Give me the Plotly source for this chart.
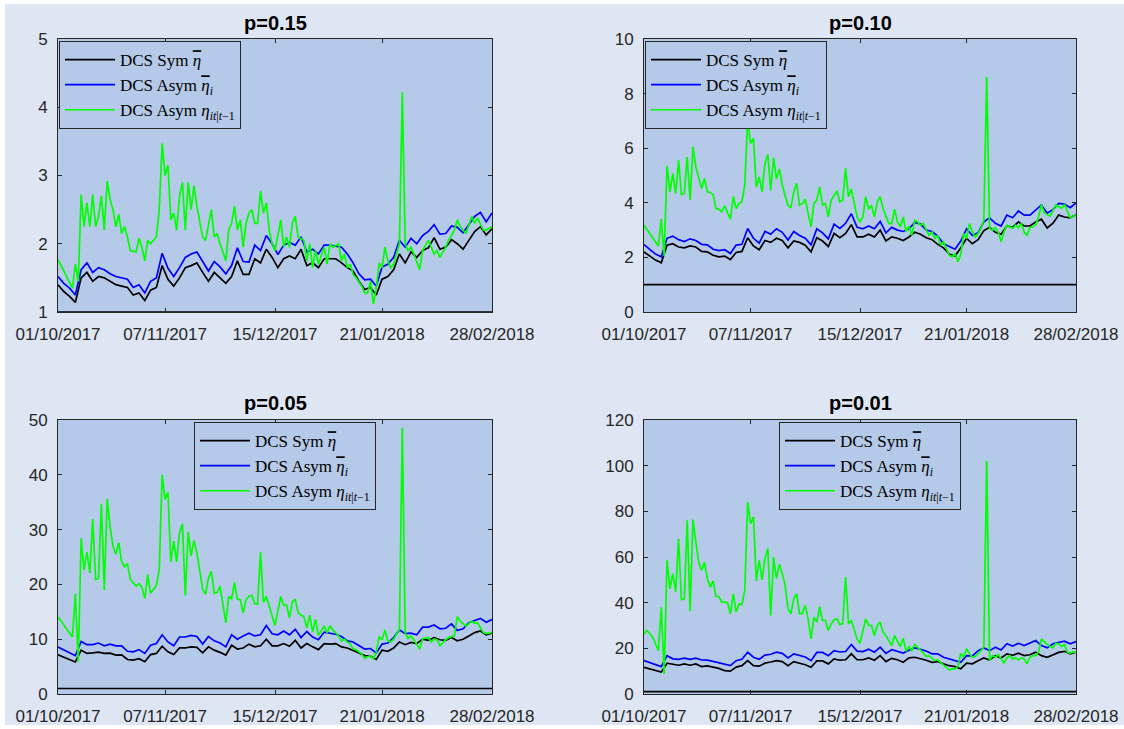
import pandas as pd
import plotly.graph_objects as go

# ---------------------------------------------------------------------------
# Data: daily estimates of the tail parameter, 01/10/2017 - 28/02/2018
# ---------------------------------------------------------------------------
START = pd.Timestamp("2017-10-01")
N_DAYS = 150

# the two smooth estimates are stored every second day
GRID_DAYS = list(range(0, N_DAYS + 1, 2))

# p = 0.15
P15_SYM = [1.40, 1.30, 1.23, 1.14, 1.50, 1.58, 1.45, 1.52, 1.50, 1.45,
           1.40, 1.38, 1.36, 1.25, 1.28, 1.17, 1.32, 1.36, 1.68, 1.48,
           1.38, 1.50, 1.65, 1.68, 1.72, 1.58, 1.45, 1.58, 1.50, 1.42,
           1.52, 1.75, 1.55, 1.55, 1.78, 1.72, 1.92, 1.80, 1.65, 1.78,
           1.82, 1.78, 1.92, 1.68, 1.72, 1.65, 1.78, 1.78, 1.78, 1.72,
           1.65, 1.60, 1.45, 1.33, 1.36, 1.25, 1.48, 1.52, 1.62, 1.85,
           1.72, 1.88, 1.80, 1.90, 1.94, 2.09, 1.92, 1.95, 2.06, 2.00,
           1.92, 2.05, 2.18, 2.25, 2.13, 2.22]
P15_ASYM = [1.52, 1.42, 1.35, 1.25, 1.62, 1.72, 1.58, 1.65, 1.62, 1.56,
            1.52, 1.50, 1.48, 1.36, 1.40, 1.28, 1.45, 1.50, 1.86, 1.64,
            1.52, 1.65, 1.80, 1.85, 1.88, 1.74, 1.60, 1.74, 1.66, 1.56,
            1.68, 1.94, 1.74, 1.73, 1.98, 1.90, 2.12, 2.00, 1.84, 1.98,
            2.02, 1.98, 2.10, 1.88, 1.92, 1.85, 1.98, 1.98, 1.97, 1.95,
            1.85, 1.72, 1.56, 1.47, 1.48, 1.38, 1.66, 1.70, 1.80, 2.05,
            1.95, 2.08, 2.00, 2.12, 2.18, 2.28, 2.14, 2.15, 2.26, 2.24,
            2.16, 2.28, 2.40, 2.46, 2.32, 2.45]

# p = 0.10
P10_SYM = [2.20, 2.05, 1.90, 1.80, 2.45, 2.50, 2.38, 2.35, 2.42, 2.38,
           2.22, 2.20, 2.08, 2.02, 2.05, 1.92, 2.18, 2.22, 2.72, 2.42,
           2.28, 2.62, 2.55, 2.70, 2.62, 2.35, 2.60, 2.55, 2.45, 2.20,
           2.72, 2.60, 2.40, 2.88, 2.72, 2.88, 3.20, 2.75, 2.75, 2.85,
           2.75, 3.00, 2.60, 2.75, 2.70, 2.62, 2.75, 2.92, 2.85, 2.72,
           2.65, 2.48, 2.35, 2.12, 2.05, 2.35, 2.70, 2.50, 2.65, 2.98,
           3.10, 2.92, 2.85, 3.15, 3.10, 3.30, 3.15, 3.15, 3.30, 3.40,
           3.08, 3.25, 3.55, 3.48, 3.45, 3.57]
P10_ASYM = [2.47, 2.30, 2.12, 2.02, 2.70, 2.78, 2.65, 2.58, 2.68, 2.62,
            2.48, 2.46, 2.30, 2.25, 2.28, 2.14, 2.45, 2.48, 3.06, 2.70,
            2.52, 2.95, 2.85, 3.05, 2.92, 2.64, 2.95, 2.80, 2.70, 2.46,
            3.05, 2.90, 2.68, 3.22, 3.06, 3.25, 3.60, 3.10, 3.05, 3.15,
            3.05, 3.32, 2.90, 3.10, 3.00, 2.95, 3.05, 3.28, 3.22, 3.00,
            2.95, 2.78, 2.50, 2.40, 2.30, 2.60, 3.05, 2.80, 2.90, 3.30,
            3.45, 3.25, 3.15, 3.55, 3.45, 3.70, 3.55, 3.55, 3.72, 3.92,
            3.62, 3.75, 3.98, 3.95, 3.82, 4.00]

# p = 0.05
P05_SYM = [7.16, 6.70, 6.30, 5.85, 8.00, 7.40, 7.50, 7.65, 7.40, 7.45,
           7.10, 7.15, 6.30, 6.20, 6.45, 5.90, 7.20, 7.40, 8.70, 7.70,
           7.20, 8.40, 8.40, 8.60, 8.50, 7.50, 8.60, 8.00, 7.60, 7.10,
           8.90, 8.20, 8.40, 9.10, 8.60, 8.80, 10.00, 8.80, 8.80, 9.20,
           8.70, 9.80, 8.40, 9.20, 8.60, 8.10, 9.20, 9.10, 9.20, 8.60,
           8.40, 8.00, 7.50, 7.00, 6.90, 6.30, 8.00, 7.80, 8.40, 9.50,
           9.00, 9.40, 9.20, 10.00, 9.80, 10.30, 9.90, 9.80, 10.30, 9.70,
           10.00, 10.60, 11.20, 11.50, 10.80, 11.10]
P05_ASYM = [8.56, 8.00, 7.50, 7.00, 9.60, 9.00, 9.00, 9.30, 8.80, 9.10,
            8.80, 8.80, 7.80, 7.70, 8.10, 7.40, 8.90, 9.20, 10.80, 9.50,
            8.80, 10.40, 10.40, 10.70, 10.50, 9.10, 10.50, 9.70, 9.30, 8.60,
            10.80, 10.00, 10.60, 11.10, 10.60, 10.80, 12.50, 11.00, 10.80, 11.50,
            10.80, 11.80, 10.30, 11.40, 10.40, 9.90, 11.30, 11.10, 10.90, 10.50,
            9.70, 9.50, 8.90, 8.20, 8.30, 7.50, 9.10, 9.30, 10.30, 11.70,
            11.00, 11.10, 10.80, 12.20, 12.20, 12.60, 11.90, 12.00, 12.80, 11.60,
            11.90, 13.00, 13.40, 13.80, 13.10, 13.60]

# p = 0.01
P01_SYM = [11.7, 11.0, 10.3, 9.6, 13.5, 12.9, 12.6, 13.2, 12.6, 13.2,
           12.0, 12.3, 11.7, 11.2, 10.2, 10.0, 11.8, 12.4, 14.6, 12.4,
           12.2, 13.5, 14.0, 14.6, 14.2, 12.4, 14.2, 13.5, 12.8, 11.7,
           14.5, 14.5, 13.2, 15.4, 14.8, 15.0, 17.6, 15.0, 15.0, 15.8,
           14.8, 16.8, 14.2, 15.6, 15.0, 13.9, 15.8, 16.1, 15.6, 14.8,
           13.9, 14.2, 13.2, 12.4, 12.0, 11.0, 13.5, 13.2, 14.6, 15.8,
           14.9, 16.8, 15.8, 17.6, 16.9, 17.9, 16.8, 17.2, 18.3, 16.8,
           16.1, 17.3, 18.2, 18.7, 17.6, 18.3]
P01_ASYM = [14.6, 13.8, 12.8, 12.0, 16.8, 15.4, 15.2, 15.7, 15.2, 15.7,
            14.9, 14.8, 14.3, 13.6, 13.2, 12.4, 14.6, 15.2, 18.3, 16.1,
            15.2, 17.0, 17.4, 18.3, 17.8, 15.8, 17.6, 17.0, 16.2, 14.6,
            18.2, 18.2, 16.8, 19.0, 18.4, 18.6, 21.7, 18.8, 18.6, 19.6,
            18.3, 20.5, 17.8, 19.4, 18.6, 17.9, 19.2, 20.2, 19.6, 18.8,
            17.6, 17.6, 16.1, 15.4, 14.6, 13.9, 16.8, 16.6, 19.0, 20.2,
            19.0, 20.5, 19.3, 22.0, 21.0, 22.2, 21.2, 22.2, 23.4, 21.2,
            20.2, 22.0, 22.6, 23.1, 22.0, 23.0]

# conditional (time-varying) estimates, stored at their own days
COND_DAYS_A = [0, 5, 6, 7, 8, 9, 10, 11, 12, 13,
               14, 15, 16, 17, 18, 19, 20, 21, 22, 23,
               24, 25, 27, 28, 29, 30, 31, 32, 34, 35,
               36, 37, 38, 39, 40, 41, 42, 43, 44, 45,
               46, 47, 48, 50, 51, 52, 53, 54, 55, 56,
               58, 59, 60, 61, 62, 63, 64, 65, 66, 67,
               68, 69, 70, 71, 72, 73, 74, 75, 77, 78,
               79, 80, 81, 82, 83, 85, 86, 87, 88, 89,
               90, 92, 93, 94, 95, 97, 98, 99, 100, 101,
               102, 103, 105, 106, 107, 108, 109, 110, 111, 112,
               113, 114, 115, 116, 117, 118, 119, 120, 121, 122,
               123, 125, 126, 128, 129, 130, 131, 132, 134, 135,
               137, 138, 139, 141, 143, 144, 145, 147, 148, 150]
P15_COND = [1.77, 1.35, 1.70, 1.45, 2.72, 2.25, 2.60, 2.25, 2.72, 2.25,
            2.40, 2.70, 2.20, 2.92, 2.65, 2.50, 2.25, 2.43, 2.15, 2.25,
            2.10, 1.90, 1.88, 2.08, 1.95, 1.75, 2.05, 2.00, 2.10, 2.50,
            3.47, 3.00, 3.15, 2.35, 2.45, 2.20, 2.70, 2.90, 2.20, 2.90,
            2.50, 2.85, 2.55, 2.10, 2.05, 2.30, 2.50, 2.10, 2.15, 2.00,
            1.75, 2.20, 2.30, 2.55, 2.20, 2.35, 1.95, 2.30, 2.45, 2.50,
            2.30, 2.30, 2.77, 2.45, 2.60, 2.20, 2.00, 1.90, 2.35, 1.95,
            2.10, 1.95, 2.30, 2.40, 2.10, 2.05, 1.75, 2.00, 1.65, 1.90,
            1.70, 1.95, 1.70, 2.00, 1.95, 2.00, 1.75, 1.85, 1.65, 1.70,
            1.55, 1.50, 1.38, 1.28, 1.28, 1.45, 1.12, 1.35, 1.72, 1.65,
            1.95, 1.75, 1.65, 1.70, 1.85, 2.00, 4.22, 2.00, 1.90, 1.95,
            1.85, 1.62, 1.90, 2.05, 1.95, 1.85, 1.90, 1.80, 1.95, 2.05,
            2.20, 2.35, 2.25, 2.15, 2.40, 2.30, 2.38, 2.20, 2.20, 2.25]
P05_COND = [14.1, 10.4, 18.3, 5.9, 28.4, 22.6, 25.9, 22.1, 31.9, 20.9,
            21.1, 34.7, 19.0, 35.6, 30.6, 27.0, 25.5, 27.6, 24.2, 23.2,
            23.8, 20.9, 19.7, 20.1, 19.5, 17.4, 21.8, 18.4, 19.8, 22.8,
            40.0, 35.5, 36.8, 24.1, 27.9, 24.1, 29.4, 31.0, 18.0, 29.6,
            25.2, 28.0, 25.8, 19.1, 18.2, 21.2, 22.4, 18.4, 18.5, 19.7,
            13.0, 17.8, 17.4, 20.3, 17.3, 17.2, 14.8, 17.2, 17.9, 18.0,
            16.5, 16.4, 25.9, 16.7, 17.8, 15.9, 14.2, 12.5, 17.8, 16.2,
            16.2, 13.9, 16.8, 17.3, 14.8, 14.1, 12.1, 14.4, 11.3, 13.6,
            10.7, 12.4, 11.2, 12.4, 11.7, 10.6, 9.7, 10.0, 9.5, 9.1,
            8.2, 8.1, 7.3, 6.5, 6.8, 7.0, 6.4, 7.6, 10.5, 9.9,
            11.7, 9.7, 9.5, 10.0, 10.9, 11.8, 48.6, 11.1, 10.1, 10.6,
            9.9, 8.2, 10.1, 10.3, 9.5, 10.0, 9.9, 8.8, 9.9, 10.3,
            10.6, 14.1, 13.3, 12.4, 13.3, 12.9, 13.0, 11.2, 11.0, 11.2]

COND_DAYS_B = [0, 5, 6, 7, 8, 9, 10, 11, 12, 13,
               14, 15, 16, 17, 18, 19, 20, 21, 22, 23,
               24, 25, 26, 27, 28, 29, 30, 31, 32, 33,
               34, 35, 36, 37, 38, 39, 40, 41, 42, 43,
               44, 45, 46, 47, 48, 49, 50, 51, 52, 53,
               54, 55, 56, 57, 58, 59, 60, 61, 62, 63,
               64, 65, 66, 67, 68, 69, 70, 71, 72, 73,
               74, 75, 76, 77, 78, 79, 80, 81, 82, 83,
               84, 85, 86, 87, 88, 89, 90, 91, 92, 93,
               94, 95, 96, 97, 98, 99, 100, 101, 102, 103,
               104, 105, 106, 107, 108, 109, 110, 111, 112, 113,
               114, 115, 116, 117, 118, 119, 120, 121, 122, 123,
               124, 125, 126, 128, 129, 130, 131, 132, 133, 134,
               136, 137, 138, 139, 141, 143, 145, 146, 148, 150]
P10_COND = [3.18, 2.42, 3.40, 2.05, 5.35, 4.40, 5.07, 4.34, 5.56, 4.30,
            4.34, 5.68, 4.10, 6.05, 5.32, 4.95, 4.52, 4.89, 4.40, 4.38,
            4.30, 3.79, 3.77, 3.67, 3.89, 3.65, 3.40, 4.23, 3.79, 3.97,
            4.05, 4.65, 7.07, 6.18, 6.36, 4.58, 4.95, 4.40, 5.44, 5.77,
            4.46, 5.65, 4.87, 5.24, 4.65, 4.28, 3.91, 3.81, 4.40, 4.71,
            3.91, 3.97, 4.13, 3.61, 3.12, 3.97, 4.10, 4.58, 3.91, 3.97,
            3.48, 4.10, 4.28, 4.43, 4.03, 4.10, 5.26, 4.22, 4.50, 3.97,
            3.48, 3.30, 3.48, 4.22, 3.79, 3.89, 3.48, 4.03, 4.23, 3.79,
            3.48, 3.24, 3.24, 3.77, 3.30, 3.12, 3.48, 2.95, 3.15, 2.81,
            3.36, 3.30, 3.18, 3.24, 3.00, 2.81, 2.93, 2.69, 2.81, 2.44,
            2.57, 2.32, 2.08, 2.02, 2.14, 1.84, 2.11, 2.87, 2.69, 3.24,
            2.93, 2.75, 2.87, 3.06, 3.36, 8.62, 3.06, 3.00, 3.09, 2.93,
            2.57, 2.93, 3.18, 3.06, 3.18, 3.09, 3.24, 2.93, 2.81, 3.09,
            3.18, 3.48, 3.94, 3.63, 3.51, 3.92, 3.80, 3.95, 3.45, 3.57]

# p = 0.01 conditional estimate, one value per day
COND_DAYS_C = list(range(0, N_DAYS + 1))
P01_COND = [26.3, 27.8, 26.5, 24.9, 22.0, 19.0, 38.0, 8.8, 58.5, 46.1,
            52.7, 44.6, 68.0, 41.3, 41.7, 76.1, 36.3, 76.4, 66.6, 57.8,
            54.1, 57.8, 50.5, 46.8, 49.5, 42.7, 42.7, 40.2, 40.2, 40.0,
            35.1, 43.9, 35.9, 39.5, 39.2, 45.4, 84.1, 74.6, 77.6, 49.5,
            58.5, 50.0, 59.3, 63.7, 34.4, 60.0, 50.5, 56.8, 52.7, 47.6,
            37.3, 35.1, 41.7, 43.9, 35.1, 35.4, 38.8, 32.9, 24.1, 33.7,
            31.5, 38.3, 32.2, 32.2, 27.8, 30.7, 32.5, 32.9, 30.4, 30.7,
            51.2, 30.7, 32.2, 27.8, 24.1, 22.2, 27.1, 32.9, 30.0, 30.0,
            25.6, 30.0, 31.5, 27.1, 25.6, 23.4, 21.2, 25.6, 23.4, 20.8,
            24.4, 18.7, 20.8, 19.0, 21.7, 20.5, 19.3, 17.9, 16.4, 16.8,
            15.7, 14.6, 14.9, 13.9, 12.9, 11.7, 10.5, 11.0, 11.0, 12.0,
            17.9, 16.1, 19.8, 17.6, 16.1, 16.4, 17.6, 19.0, 20.5, 102.2,
            14.6, 16.8, 16.1, 17.3, 15.4, 13.5, 15.8, 16.8, 15.4, 15.8,
            14.9, 15.8, 15.4, 13.2, 16.1, 16.8, 16.8, 18.3, 24.1, 22.7,
            21.7, 20.8, 20.2, 22.2, 22.0, 20.8, 21.7, 18.3, 17.9, 18.3,
            18.3]

REF_LEVEL = 1.0

TICK_DATES = ["2017-10-01", "2017-11-07", "2017-12-15", "2018-01-21", "2018-02-28"]
TICK_LABELS = ["01/10/2017", "07/11/2017", "15/12/2017", "21/01/2018", "28/02/2018"]

TITLES = ["p=0.15", "p=0.10", "p=0.05", "p=0.01"]
Y_RANGES = [[1, 5], [0, 10], [0, 50], [0, 120]]
Y_STEPS = [1, 2, 10, 20]

SERIES = [
    (P15_SYM, P15_ASYM, COND_DAYS_A, P15_COND),
    (P10_SYM, P10_ASYM, COND_DAYS_B, P10_COND),
    (P05_SYM, P05_ASYM, COND_DAYS_A, P05_COND),
    (P01_SYM, P01_ASYM, COND_DAYS_C, P01_COND),
]

BAR_ETA = '<span style="text-decoration:overline"><i>η</i></span>'
NAME_SYM = "DCS Sym " + BAR_ETA
NAME_ASYM = "DCS Asym " + BAR_ETA + "<sub><i>i</i></sub>"
NAME_COND = "DCS Asym <i>η</i><sub><i>it</i>|<i>t</i>−1</sub>"

# ---------------------------------------------------------------------------
# Styling
# ---------------------------------------------------------------------------
W, H = 1124, 729
PAPER = "#DFE6F3"
PLOT_BG = "#B5C9E9"
AXIS = "#262626"
LINE_W = 1.7
COLORS = {"sym": "#000000", "asym": "#0000FF", "cond": "#00FF00"}

# plot boxes in pixels: left, top, right, bottom
BOXES = [(58, 39, 492, 312), (644, 39, 1076, 312),
         (58, 420, 492, 694), (644, 420, 1076, 694)]
# legend top-left corners in pixels
LEGEND_POS = [(59, 41), (645, 41), (194, 422), (779, 422)]
TITLE_Y = [23, 23, 403, 403]


def to_dates(days):
    return [START + pd.Timedelta(days=int(d)) for d in days]


fig = go.Figure()

for i, (sym, asym, cdays, cond) in enumerate(SERIES):
    k = "" if i == 0 else str(i + 1)
    xref, yref, lref = "x" + k, "y" + k, "legend" + k
    grid = to_dates(GRID_DAYS)
    full = to_dates([0, N_DAYS])
    fig.add_trace(go.Scatter(x=full, y=[REF_LEVEL, REF_LEVEL], mode="lines",
                             line=dict(color="#000000", width=LINE_W),
                             showlegend=False, hoverinfo="skip",
                             xaxis=xref, yaxis=yref))
    fig.add_trace(go.Scatter(x=grid, y=sym, mode="lines", name=NAME_SYM,
                             line=dict(color=COLORS["sym"], width=LINE_W),
                             xaxis=xref, yaxis=yref, legend=lref))
    fig.add_trace(go.Scatter(x=grid, y=asym, mode="lines", name=NAME_ASYM,
                             line=dict(color=COLORS["asym"], width=LINE_W),
                             xaxis=xref, yaxis=yref, legend=lref))
    fig.add_trace(go.Scatter(x=to_dates(cdays), y=cond, mode="lines", name=NAME_COND,
                             line=dict(color=COLORS["cond"], width=LINE_W),
                             xaxis=xref, yaxis=yref, legend=lref))

layout = dict(
    width=W, height=H, autosize=False,
    margin=dict(l=0, r=0, t=0, b=0, pad=0, autoexpand=False),
    paper_bgcolor=PAPER, plot_bgcolor=PLOT_BG,
    font=dict(family="Liberation Sans, Arial, sans-serif", size=17, color=AXIS),
    annotations=[], shapes=[],
)

tick_font = dict(family="Liberation Sans, Arial, sans-serif", size=17, color=AXIS)
legend_font = dict(family="Liberation Serif, Times New Roman, serif", size=17, color="#000000")

for i in range(4):
    k = "" if i == 0 else str(i + 1)
    l, t, r, b = BOXES[i]
    xd = [l / W, r / W]
    yd = [1 - b / H, 1 - t / H]
    common = dict(showline=True, linecolor=AXIS, linewidth=1, mirror="allticks",
                  ticks="inside", ticklen=4, tickwidth=1, tickcolor=AXIS,
                  showgrid=False, zeroline=False, tickfont=tick_font,
                  automargin=False, fixedrange=True)
    layout["xaxis" + k] = dict(common, domain=xd, anchor="y" + k, type="date",
                               range=[START, START + pd.Timedelta(days=N_DAYS)],
                               tickmode="array", tickvals=TICK_DATES,
                               ticktext=TICK_LABELS, ticklabelstandoff=7)
    layout["yaxis" + k] = dict(common, domain=yd, anchor="x" + k,
                               range=Y_RANGES[i], tick0=Y_RANGES[i][0],
                               dtick=Y_STEPS[i], ticklabelstandoff=6)
    lx, ly = LEGEND_POS[i]
    layout["legend" + k] = dict(x=lx / W, y=1 - ly / H, xref="paper", yref="paper",
                                xanchor="left", yanchor="top",
                                bgcolor=PLOT_BG, bordercolor=AXIS, borderwidth=1,
                                font=legend_font, itemwidth=50,
                                tracegroupgap=0)
    layout["annotations"].append(dict(
        text=TITLES[i], x=(l + r) / 2 / W, y=1 - TITLE_Y[i] / H,
        xref="paper", yref="paper", xanchor="center", yanchor="middle",
        showarrow=False,
        font=dict(family="Liberation Sans, Arial, sans-serif", size=20,
                  color="#000000", weight="bold")))

# thin white frame around the figure edge
for x0, y0, x1, y1 in [(0, 0, 1, 4 / H), (0, 1 - 4 / H, 1, 1), (0, 0, 5 / W, 1)]:
    layout["shapes"].append(dict(type="rect", xref="paper", yref="paper",
                                 x0=x0, y0=y0, x1=x1, y1=y1,
                                 fillcolor="#FFFFFF", line=dict(width=0),
                                 layer="below"))

fig.update_layout(**layout)
fig.write_html("out.html")
